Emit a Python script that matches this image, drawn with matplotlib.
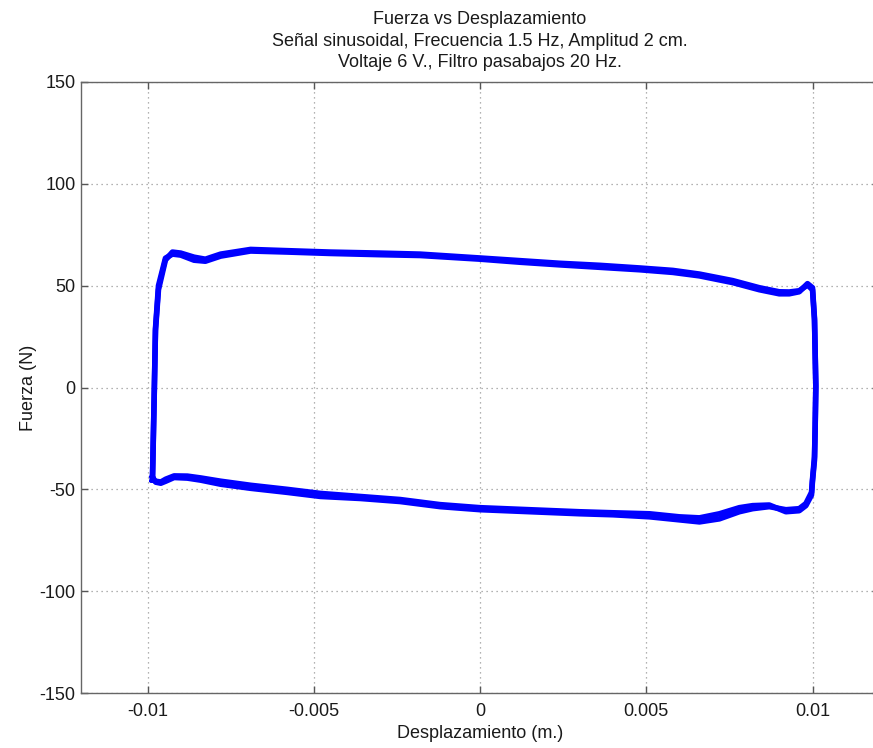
import matplotlib
matplotlib.use("Agg")
import matplotlib.pyplot as plt
import numpy as np

plt.rcParams['font.family'] = ['Liberation Sans', 'DejaVu Sans']

# Hysteresis loop (displacement in m, force in N)
disp = [-0.00985, -0.00980, -0.00976, -0.00967, -0.00946, -0.00925, -0.00900,
        -0.00860, -0.00826, -0.00780, -0.00690, -0.00580, -0.00450, -0.00300,
        -0.00180, 0.00000, 0.00120, 0.00240, 0.00360, 0.00480, 0.00580,
        0.00660, 0.00760, 0.00840, 0.00900, 0.00930, 0.00960, 0.00985, 0.01000,
        0.01006, 0.01010, 0.01008, 0.01006, 0.01000, 0.00997, 0.00980, 0.00960,
        0.00920, 0.00870, 0.00820, 0.00780, 0.00720, 0.00660, 0.00600, 0.00510,
        0.00400, 0.00300, 0.00150, 0.00000, -0.00120, -0.00240, -0.00360,
        -0.00480, -0.00580, -0.00690, -0.00780, -0.00840, -0.00880, -0.00920,
        -0.00945, -0.00960, -0.00975, -0.00985]
force = [-45.4, -6.0, 28.0, 48.0, 62.6, 66.5, 66.0,
         64.0, 63.0, 65.5, 67.8, 67.2, 66.5, 66.0,
         65.5, 63.6, 62.3, 61.0, 60.0, 58.7, 57.5,
         55.7, 52.5, 49.0, 47.0, 46.9, 47.5, 50.3, 48.0,
         33.0, 0.0, -20.0, -35.6, -46.0, -52.8, -58.0, -60.5,
         -61.0, -57.7, -58.0, -59.0, -62.0, -64.0, -63.5, -62.0,
         -61.5, -61.0, -60.0, -59.0, -57.5, -55.0, -53.5,
         -52.0, -50.0, -48.0, -46.0, -44.4, -43.5, -43.4,
         -45.0, -46.4, -46.0, -45.4]

# A second cycle, slightly offset in places
disp2 = disp
force2 = [-44.0, -5.0, 29.0, 50.0, 63.5, 65.5, 65.0,
          62.5, 62.0, 64.5, 67.0, 66.5, 65.8, 65.2,
          64.8, 63.0, 61.5, 60.2, 59.0, 57.8, 56.5,
          54.8, 51.5, 48.0, 46.0, 46.0, 47.0, 51.0, 49.0,
          34.0, 1.0, -19.0, -34.0, -45.0, -51.5, -57.0, -59.5,
          -60.0, -58.5, -59.5, -61.0, -64.5, -66.0, -65.0, -63.5,
          -62.5, -62.0, -61.0, -60.0, -58.5, -56.0, -54.5,
          -53.5, -51.5, -49.5, -47.5, -45.5, -44.5, -44.2,
          -46.0, -47.0, -46.5, -44.0]

x_ticks = [-0.01, -0.005, 0, 0.005, 0.01]
x_tick_labels = ['-0.01', '-0.005', '0', '0.005', '0.01']
y_ticks = [-150, -100, -50, 0, 50, 100, 150]
y_tick_labels = ['-150', '-100', '-50', '0', '50', '100', '150']

W, H = 873, 748
fig = plt.figure(figsize=(W / 100, H / 100), dpi=100)
ax = fig.add_axes([81 / W, 1 - 693 / H, (879 - 81) / W, (693 - 82) / H])

ax.plot(disp2, force2, color='#0000ff', lw=4, solid_joinstyle='round')
ax.plot(disp, force, color='#0000ff', lw=4, solid_joinstyle='round')

ax.set_xlim(-0.012, 0.012)
ax.set_ylim(-150, 150)
ax.set_xticks(x_ticks)
ax.set_xticklabels(x_tick_labels)
ax.set_yticks(y_ticks)
ax.set_yticklabels(y_tick_labels)
ax.grid(True, linestyle=(0, (1, 3)), color='#999999', linewidth=0.9)
ax.tick_params(direction='in', length=5, width=1, colors='#555555',
               labelcolor='#1a1a1a', labelsize=13, top=True, right=True)
ax.tick_params(axis='x', pad=7)
ax.tick_params(axis='y', pad=4)
for s in ax.spines.values():
    s.set_color('#666666')
    s.set_linewidth(1.0)

ax.set_title('Fuerza vs Desplazamiento\nSeñal sinusoidal, Frecuencia 1.5 Hz, Amplitud 2 cm.\n'
             'Voltaje 6 V., Filtro pasabajos 20 Hz.',
             fontsize=13, color='#1a1a1a', linespacing=1.32, pad=11)
ax.set_xlabel('Desplazamiento (m.)', fontsize=13, color='#1a1a1a', labelpad=4)
ax.set_ylabel('Fuerza (N)', fontsize=13, color='#1a1a1a', labelpad=2)

fig.savefig('out.png', dpi=100)
